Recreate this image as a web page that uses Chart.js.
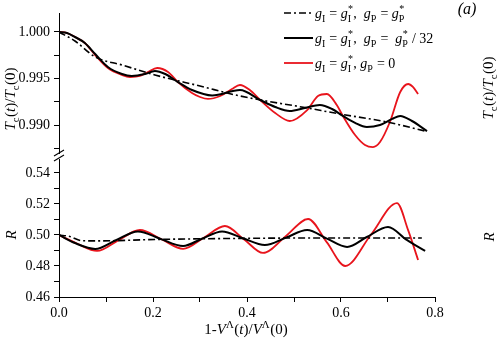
<!DOCTYPE html>
<html><head><meta charset="utf-8">
<script src="https://cdn.jsdelivr.net/npm/chart.js@4/dist/chart.umd.min.js"></script>
<style>html,body{margin:0;padding:0;background:#fff}canvas{display:block}</style>
</head><body>
<canvas id="c" width="498" height="344"></canvas>
<script>
// ---- data ----
const xTickValues = [0, 0.1, 0.2, 0.3, 0.4, 0.5, 0.6, 0.7, 0.8];
const xTickLabels = ['0.0', '', '0.2', '', '0.4', '', '0.6', '', '0.8'];
const tcTickValues = [0.9875, 0.99, 0.9925, 0.995, 0.9975, 1.0];
const tcTickLabels = ['', '0.990', '', '0.995', '', '1.000'];
const rTickValues = [0.46, 0.47, 0.48, 0.49, 0.50, 0.51, 0.52, 0.53, 0.54];
const rTickLabels = ['0.46', '', '0.48', '', '0.50', '', '0.52', '', '0.54'];

const legendLabels = ['gI = gI*, gP = gP*', 'gI = gI*, gP = gP* / 32', 'gI = gI*, gP = 0'];

// Tc(t)/Tc(0) panel
const xTcDashDot = [0, 0.034, 0.077, 0.134, 0.204, 0.300, 0.385, 0.528, 0.598, 0.698, 0.779];
const tcDashDot  = [1.0000, 0.99903, 0.99731, 0.99645, 0.99538, 0.99419, 0.99312, 0.99183, 0.99118, 0.99032, 0.98935];

const xTcBlack = [0, 0.017, 0.034, 0.055, 0.077, 0.104, 0.134, 0.155, 0.183, 0.204, 0.226, 0.253, 0.283, 0.326, 0.385, 0.428, 0.460, 0.491, 0.523, 0.555, 0.581, 0.604, 0.630, 0.655, 0.683, 0.709, 0.726, 0.751, 0.783];
const tcBlack  = [1.0000, 0.99989, 0.99946, 0.99882, 0.99763, 0.99624, 0.99548, 0.99527, 0.99548, 0.99581, 0.99548, 0.99462, 0.99376, 0.99318, 0.99376, 0.99269, 0.99194, 0.99151, 0.99183, 0.99215, 0.99172, 0.99097, 0.99022, 0.98978, 0.99000, 0.99065, 0.99097, 0.99043, 0.98935];

const xTcRed = [0, 0.017, 0.034, 0.055, 0.077, 0.104, 0.134, 0.151, 0.172, 0.189, 0.209, 0.232, 0.253, 0.283, 0.300, 0.317, 0.343, 0.368, 0.385, 0.406, 0.428, 0.460, 0.491, 0.528, 0.551, 0.570, 0.591, 0.604, 0.630, 0.651, 0.668, 0.683, 0.704, 0.726, 0.743, 0.753, 0.764];
const tcRed  = [1.0000, 0.99989, 0.99946, 0.99882, 0.99752, 0.99613, 0.99538, 0.99516, 0.99527, 0.99570, 0.99613, 0.99570, 0.99462, 0.99344, 0.99301, 0.99280, 0.99312, 0.99387, 0.99430, 0.99376, 0.99269, 0.99129, 0.99043, 0.99161, 0.99312, 0.99333, 0.99215, 0.99097, 0.98892, 0.98785, 0.98763, 0.98817, 0.99032, 0.99355, 0.99441, 0.99409, 0.99333];

// R panel
const xRDashDot = [0, 0.023, 0.049, 0.087, 0.204, 0.389, 0.560, 0.772];
const rDashDot  = [0.5000, 0.4990, 0.4963, 0.4962, 0.4971, 0.4978, 0.4981, 0.4981];

const xRBlack = [0, 0.034, 0.077, 0.121, 0.168, 0.215, 0.264, 0.304, 0.347, 0.391, 0.438, 0.483, 0.528, 0.570, 0.613, 0.655, 0.700, 0.740, 0.779];
const rBlack  = [0.5000, 0.4948, 0.4910, 0.4966, 0.5023, 0.4976, 0.4929, 0.4976, 0.5023, 0.4979, 0.4935, 0.4983, 0.5032, 0.4977, 0.4923, 0.4987, 0.5052, 0.4968, 0.4897];

const xRRed = [0, 0.038, 0.081, 0.126, 0.172, 0.219, 0.264, 0.309, 0.353, 0.394, 0.434, 0.483, 0.530, 0.570, 0.609, 0.664, 0.719, 0.743, 0.764];
const rRed  = [0.5000, 0.4945, 0.4897, 0.4965, 0.5032, 0.4971, 0.4910, 0.4984, 0.5058, 0.4971, 0.4884, 0.4994, 0.5103, 0.4952, 0.4800, 0.5003, 0.5206, 0.5030, 0.4839];

// ---- helpers ----
const FONT = '"Liberation Serif", "Times New Roman", serif';
const zip = (xs, ys) => xs.map((x, i) => ({x: x, y: ys[i]}));
const fnt = (size, it) => (it ? 'italic ' : '') + size + 'px ' + FONT;
const DASHDOT = [7, 3, 2, 3];

function segWidth(ctx, s, size) {
  if (s.sub !== undefined || s.sup !== undefined) {
    ctx.font = fnt(size * 0.72, false);
    const a = s.sub !== undefined ? ctx.measureText(s.sub).width : 0;
    const b = s.sup !== undefined ? ctx.measureText(s.sup).width : 0;
    return Math.max(a, b) + 0.5;
  }
  ctx.font = fnt(size, s.i);
  return ctx.measureText(s.t).width;
}
function richWidth(ctx, segs, size) { return segs.reduce((w, s) => w + segWidth(ctx, s, size), 0); }
function drawRich(ctx, segs, x, y, size, align) {
  const w = richWidth(ctx, segs, size);
  let cx = align === 'center' ? x - w / 2 : (align === 'right' ? x - w : x);
  ctx.textAlign = 'left';
  ctx.textBaseline = 'alphabetic';
  ctx.fillStyle = '#000';
  for (const s of segs) {
    const sw = segWidth(ctx, s, size);
    if (s.sub !== undefined || s.sup !== undefined) {
      ctx.font = fnt(size * 0.72, false);
      if (s.sub !== undefined) ctx.fillText(s.sub, cx, y + size * 0.28);
      if (s.sup !== undefined) {
        const ww = ctx.measureText(s.sup).width;
        const off = s.sub !== undefined ? (sw - ww) / 2 : 0;
        ctx.fillText(s.sup, cx + off, y - size * 0.42);
      }
    } else {
      ctx.font = fnt(size, s.i);
      ctx.fillText(s.t, cx, y);
    }
    cx += sw;
  }
}
const T = (t, i) => ({t: t, i: !!i});
const tcTitle = [T('T', 1), {sub: 'c'}, T('('), T('t', 1), T(')/'), T('T', 1), {sub: 'c'}, T('(0)')];
const rTitle = [T('R', 1)];
const xTitle = [T('1-'), T('V', 1), {sup: 'Λ'}, T('('), T('t', 1), T(')/'), T('V', 1), {sup: 'Λ'}, T('(0)')];
const legRows = [
  [T('g', 1), {sub: 'I'}, T(' = '), T('g', 1), {sub: 'I', sup: '*'}, T(',  '), T('g', 1), {sub: 'P'}, T(' = '), T('g', 1), {sub: 'P', sup: '*'}],
  [T('g', 1), {sub: 'I'}, T(' = '), T('g', 1), {sub: 'I', sup: '*'}, T(',  '), T('g', 1), {sub: 'P'}, T(' =  '), T('g', 1), {sub: 'P', sup: '*'}, T(' / 32')],
  [T('g', 1), {sub: 'I'}, T(' = '), T('g', 1), {sub: 'I', sup: '*'}, T(', '), T('g', 1), {sub: 'P'}, T(' = 0')]
];
const legStyles = [
  {color: '#000', dash: DASHDOT, width: 1.6},
  {color: '#000', dash: [], width: 2},
  {color: '#e8141c', dash: [], width: 1.8}
];

function rotText(ctx, segs, cx, cy, size) {
  ctx.save();
  ctx.translate(cx, cy);
  ctx.rotate(-Math.PI / 2);
  drawRich(ctx, segs, 0, size * 0.33, size, 'center');
  ctx.restore();
}

const decor = {
  id: 'decor',
  afterDraw(chart) {
    const ctx = chart.ctx;
    const ca = chart.chartArea;
    ctx.save();
    // axis titles
    rotText(ctx, tcTitle, 10, 99, 15);
    rotText(ctx, rTitle, 11, 235, 15);
    rotText(ctx, tcTitle, 488, 88, 15);
    rotText(ctx, rTitle, 489, 237, 15);
    drawRich(ctx, xTitle, 246, 334, 15, 'center');
    // panel tag
    ctx.font = fnt(16, true);
    ctx.fillStyle = '#000';
    ctx.textAlign = 'center';
    ctx.textBaseline = 'middle';
    ctx.fillText('(a)', 467, 10);
    // axis break
    const bx = ca.left, by = chart.scales.yT.bottom;
    ctx.fillStyle = '#fff';
    ctx.fillRect(bx - 2, by - 3, 4, 5);
    ctx.strokeStyle = '#000';
    ctx.lineWidth = 1.1;
    ctx.beginPath();
    ctx.moveTo(bx - 5, by - 1); ctx.lineTo(bx + 5, by - 7);
    ctx.moveTo(bx - 5, by + 4); ctx.lineTo(bx + 5, by - 2);
    ctx.stroke();
    // legend
    const rowsY = [13, 38, 63];
    for (let k = 0; k < 3; k++) {
      const st = legStyles[k];
      ctx.strokeStyle = st.color;
      ctx.lineWidth = st.width;
      ctx.setLineDash(st.dash);
      ctx.beginPath();
      ctx.moveTo(284, rowsY[k]); ctx.lineTo(313, rowsY[k]);
      ctx.stroke();
      ctx.setLineDash([]);
      drawRich(ctx, legRows[k], 315, rowsY[k] + 5, 14, 'left');
    }
    ctx.restore();
  }
};

const tickFont = {family: FONT, size: 14};
const commonGrid = {drawOnChartArea: false, drawTicks: true, tickLength: 5, color: '#000', lineWidth: 1};
const commonBorder = {display: true, color: '#000', width: 1};

function ds(label, xs, ys, axis, color, width, dash) {
  return {
    label: label, data: zip(xs, ys), yAxisID: axis,
    borderColor: color, backgroundColor: color, borderWidth: width, borderDash: dash,
    pointRadius: 0, fill: false, cubicInterpolationMode: 'monotone'
  };
}

new Chart(document.getElementById('c').getContext('2d'), {
  type: 'line',
  data: {
    datasets: [
      ds(legendLabels[0], xTcDashDot, tcDashDot, 'yT', '#000', 1.6, DASHDOT),
      ds(legendLabels[0], xRDashDot, rDashDot, 'yR', '#000', 1.6, DASHDOT),
      ds(legendLabels[1], xTcBlack, tcBlack, 'yT', '#000', 2, []),
      ds(legendLabels[1], xRBlack, rBlack, 'yR', '#000', 2, []),
      ds(legendLabels[2], xTcRed, tcRed, 'yT', '#e8141c', 1.8, []),
      ds(legendLabels[2], xRRed, rRed, 'yR', '#e8141c', 1.8, [])
    ]
  },
  options: {
    responsive: false,
    animation: false,
    devicePixelRatio: 1,
    layout: {padding: {left: 0, top: 13, right: 63, bottom: 0}},
    plugins: {legend: {display: false}, tooltip: {enabled: false}},
    scales: {
      x: {
        type: 'linear', min: 0, max: 0.8,
        afterBuildTicks: s => { s.ticks = xTickValues.map(v => ({value: v})); },
        ticks: {callback: (v, i) => xTickLabels[i], font: tickFont, color: '#000', padding: 3, maxRotation: 0, autoSkip: false},
        grid: commonGrid, border: commonBorder,
        afterFit: s => { s.height = 47; }
      },
      yR: {
        type: 'linear', position: 'left', stack: 'left', stackWeight: 140,
        min: 0.46, max: 0.5503,
        afterBuildTicks: s => { s.ticks = rTickValues.map(v => ({value: v})); },
        ticks: {callback: (v, i) => rTickLabels[i], font: tickFont, color: '#000', padding: 4, autoSkip: false},
        grid: commonGrid, border: commonBorder,
        afterFit: s => { s.width = 59; }
      },
      yT: {
        type: 'linear', position: 'left', stack: 'left', stackWeight: 144,
        min: 0.98656, max: 1.00204,
        afterBuildTicks: s => { s.ticks = tcTickValues.map(v => ({value: v})); },
        ticks: {callback: (v, i) => tcTickLabels[i], font: tickFont, color: '#000', padding: 4, autoSkip: false},
        grid: commonGrid, border: commonBorder,
        afterFit: s => { s.width = 59; }
      }
    }
  },
  plugins: [decor]
});
</script>
</body></html>
